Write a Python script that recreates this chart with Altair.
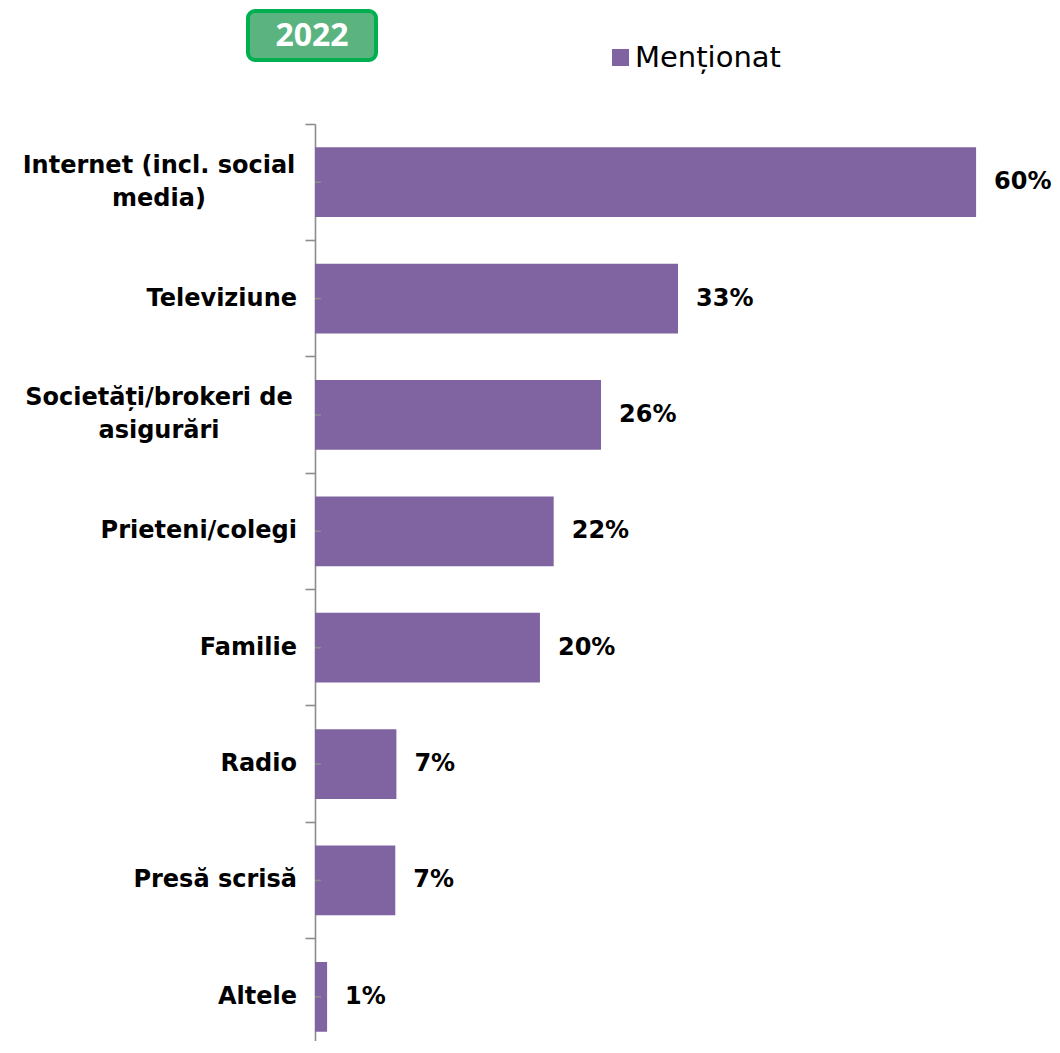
import altair as alt
import pandas as pd

categories = [
    "Internet (incl. social\nmedia)",
    "Televiziune",
    "Societăți/brokeri de\nasigurări",
    "Prieteni/colegi",
    "Familie",
    "Radio",
    "Presă scrisă",
    "Altele",
]
values = [60.1, 33.0, 26.0, 21.7, 20.45, 7.4, 7.3, 1.1]
value_labels = ["60%", "33%", "26%", "22%", "20%", "7%", "7%", "1%"]
series_name = "Menționat"
year_label = "2022"

BAR = "#8064A2"
AXIS = "#8c8c8c"
FONT = "DejaVu Sans"

df = pd.DataFrame({
    "cat": categories,
    "val": values,
    "lbl": value_labels,
    "series": [series_name] * len(categories),
})
df["multi"] = df["cat"].str.contains("\n")

y_enc = alt.Y(
    "cat:N",
    sort=categories,
    scale=alt.Scale(paddingInner=0.4, paddingOuter=0.2),
    axis=alt.Axis(
        title=None, labels=False, grid=False,
        domainColor=AXIS, domainWidth=1.6,
        tickColor=AXIS, tickWidth=1.6, tickSize=10,
        bandPosition=-0.3333,
    ),
)
x_enc = alt.X("val:Q", scale=alt.Scale(domain=[0, 64], nice=False), axis=None)

base = alt.Chart(df)

bars = base.mark_bar(color=BAR).encode(
    x=x_enc,
    y=y_enc,
    color=alt.Color(
        "series:N",
        scale=alt.Scale(domain=[series_name], range=[BAR]),
        legend=alt.Legend(
            title=None, orient="none", legendX=291, legendY=-81,
            symbolType="square", symbolSize=289, symbolStrokeWidth=0,
            labelFont=FONT, labelFontSize=29, labelColor="black",
            labelOffset=0, padding=0,
        ),
    ),
)

center_ticks = base.mark_rule(color=AXIS, strokeWidth=1.6).encode(
    x=alt.value(0), x2=alt.value(6), y=alt.Y("cat:N", sort=categories)
)

val_text = base.mark_text(
    align="left", baseline="middle", dx=18, font=FONT,
    fontSize=24, fontWeight="bold", color="black",
).encode(x="val:Q", y=alt.Y("cat:N", sort=categories), text="lbl:N")

cat_single = base.transform_filter("!datum.multi").mark_text(
    align="right", baseline="middle", font=FONT, fontSize=24,
    fontWeight="bold", color="black",
).encode(x=alt.value(-18), y=alt.Y("cat:N", sort=categories), text="cat:N")

cat_multi = base.transform_filter("datum.multi").mark_text(
    align="center", baseline="middle", font=FONT, fontSize=24,
    fontWeight="bold", color="black", lineBreak="\n", lineHeight=33,
    dy=-16.5,
).encode(x=alt.value(-156), y=alt.Y("cat:N", sort=categories), text="cat:N")

box_df = pd.DataFrame({"t": [year_label]})
box = alt.Chart(box_df).mark_rect(
    fill="#5BB480", stroke="#00B050", strokeWidth=4, cornerRadius=7,
).encode(x=alt.value(-67), x2=alt.value(61), y=alt.value(-113), y2=alt.value(-64))
box_text = alt.Chart(box_df).mark_text(
    align="center", baseline="middle", font="Open Sans", fontSize=32,
    fontWeight="bold", color="white",
).encode(x=alt.value(-3), y=alt.value(-88), text="t:N")

chart = alt.layer(
    bars, center_ticks, val_text, cat_single, cat_multi, box, box_text
).properties(
    width=704, height=931,
    autosize=alt.AutoSizeParams(type="none"),
    padding={"left": 307, "top": 116, "right": 33, "bottom": -14},
).configure_view(stroke=None)

chart.save("out.html", embed_options={"renderer": "svg", "actions": False})
